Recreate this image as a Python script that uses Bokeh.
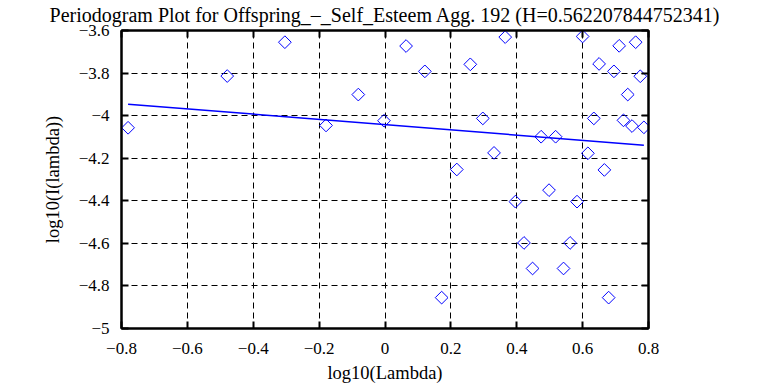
import numpy as np
from bokeh.plotting import figure
from bokeh.models import Range1d, FixedTicker, LinearAxis, ColumnDataSource
from bokeh.embed import file_html
from bokeh.resources import INLINE

# data
log_lambda = [-0.780, -0.479, -0.304, -0.179, -0.081, -0.003, 0.064, 0.121, 0.172,
              0.218, 0.259, 0.297, 0.331, 0.365, 0.396, 0.422, 0.448, 0.474, 0.498,
              0.518, 0.542, 0.562, 0.583, 0.600, 0.616, 0.634, 0.650, 0.666, 0.679,
              0.695, 0.711, 0.724, 0.737, 0.750, 0.761, 0.775, 0.786]
log_I = [-4.057, -3.814, -3.655, -4.046, -3.901, -4.024, -3.673, -3.792, -4.855,
         -4.253, -3.759, -4.013, -4.175, -3.631, -4.404, -4.598, -4.718, -4.099, -4.350,
         -4.099, -4.718, -4.598, -4.404, -3.628, -4.177, -4.013, -3.757, -4.255, -4.855,
         -3.792, -3.672, -4.022, -3.901, -4.049, -3.655, -3.815, -4.055]
fit_x = [-0.780, 0.786]
fit_y = [-3.946, -4.139]

x_ticks = [-0.8, -0.6, -0.4, -0.2, 0.0, 0.2, 0.4, 0.6, 0.8]
x_tick_labels = ["\u22120.8", "\u22120.6", "\u22120.4", "\u22120.2", "0", "0.2", "0.4", "0.6", "0.8"]
y_ticks = [-5.0, -4.8, -4.6, -4.4, -4.2, -4.0, -3.8, -3.6]
y_tick_labels = ["\u22125", "\u22124.8", "\u22124.6", "\u22124.4", "\u22124.2", "\u22124", "\u22123.8", "\u22123.6"]

title_text = "Periodogram Plot for Offspring_\u2013_Self_Esteem Agg. 192 (H=0.562207844752341)"
FONT = "Liberation Serif"

W, H = 753, 385
BL, BR, BT, BB = 121, 105, 30, 56
p = figure(width=W, height=H, output_backend="svg", toolbar_location=None,
           x_range=Range1d(-0.8, 0.8), y_range=Range1d(-5, -3.6),
           min_border_left=BL, min_border_right=BR, min_border_top=BT, min_border_bottom=BB)

p.title.text = title_text
p.title.align = "center"
p.title.vertical_align = "top"
p.title.text_font = FONT
p.title.text_font_size = "20px"
p.title.text_font_style = "normal"
p.title.text_color = "black"
p.title.standoff = 5
p.title.offset = 0

p.outline_line_color = "black"
p.outline_line_width = 2
p.background_fill_color = "white"
p.border_fill_color = "white"

xt = FixedTicker(ticks=x_ticks)
yt = FixedTicker(ticks=y_ticks)

for ax, ticker, labels in ((p.xaxis[0], xt, x_tick_labels), (p.yaxis[0], yt, y_tick_labels)):
    ax.ticker = ticker
    ax.major_label_overrides = {t: l for t, l in zip(ticker.ticks, labels)}
    ax.major_label_text_font = FONT
    ax.major_label_text_font_size = "17px"
    ax.major_label_text_color = "black"
    ax.axis_label_text_font = FONT
    ax.axis_label_text_font_size = "18.5px"
    ax.axis_label_text_font_style = "normal"
    ax.axis_label_text_color = "black"
    ax.axis_line_color = "black"
    ax.axis_line_width = 2
    ax.major_tick_in = 7
    ax.major_tick_out = 0
    ax.major_tick_line_width = 2
    ax.minor_tick_line_color = None

p.xaxis[0].major_label_standoff = 14
p.yaxis[0].major_label_standoff = 12
p.xaxis[0].axis_label = "log10(Lambda)"
p.yaxis[0].axis_label = "log10(I(lambda))"
p.xaxis[0].axis_label_standoff = 6
p.yaxis[0].axis_label_standoff = 13

for loc, ticker in (("right", yt), ("above", xt)):
    ax = LinearAxis(ticker=ticker, major_label_text_font_size="1px",
                    major_label_text_color=None,
                    axis_line_color="black", axis_line_width=2,
                    major_tick_in=7, major_tick_out=0, major_tick_line_width=2,
                    minor_tick_line_color=None, major_label_standoff=0)
    p.add_layout(ax, loc)

for g in (p.xgrid[0], p.ygrid[0]):
    g.grid_line_color = "black"
    g.grid_line_dash = "6 4"
    g.grid_line_width = 1
p.xgrid[0].ticker = xt
p.ygrid[0].ticker = yt

src = ColumnDataSource(dict(x=log_lambda, y=log_I))
p.scatter("x", "y", source=src, marker="square", angle=np.pi / 4, size=9,
          fill_color=None, line_color="#0000ff", line_width=1)
p.line(fit_x, fit_y, line_color="#0000ff", line_width=1.5)

open("out.html", "w").write(file_html(p, INLINE))
